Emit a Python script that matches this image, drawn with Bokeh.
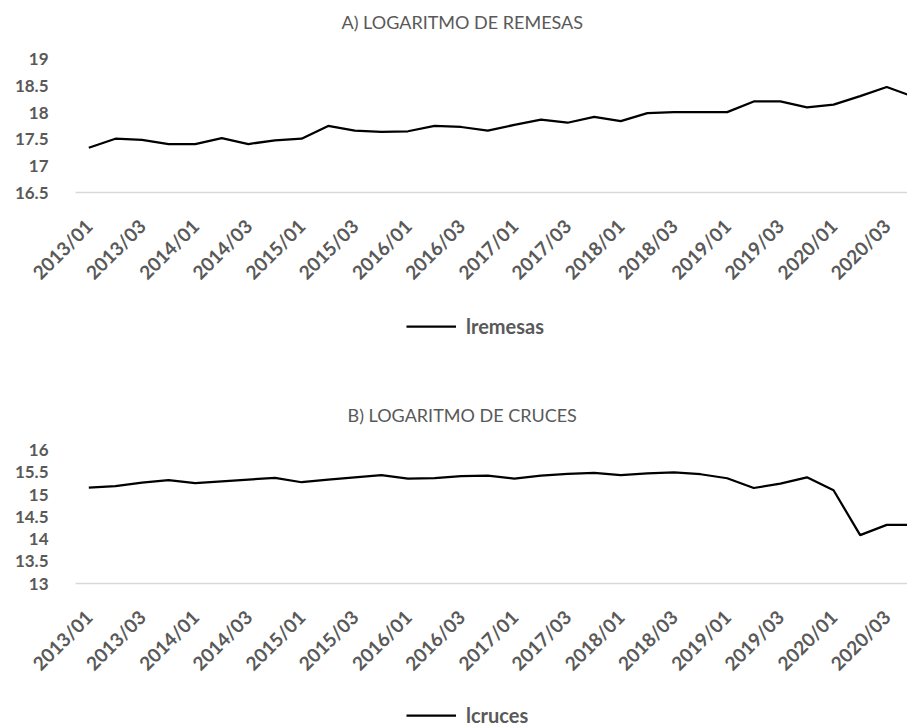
import math
from bokeh.plotting import figure
from bokeh.models import (ColumnDataSource, FixedTicker, NumeralTickFormatter,
                          Legend, LegendItem, Range1d)
from bokeh.layouts import column
from bokeh.embed import file_html
from bokeh.resources import INLINE

# ---- data ----
periods = [f"{y}/{q:02d}" for y in range(2013, 2021) for q in range(1, 5)]

lremesas = [17.34, 17.51, 17.49, 17.41, 17.41, 17.52, 17.41, 17.48,
            17.51, 17.75, 17.66, 17.64, 17.65, 17.75, 17.73, 17.66,
            17.77, 17.87, 17.81, 17.92, 17.84, 17.99, 18.01, 18.01,
            18.01, 18.21, 18.21, 18.10, 18.15, 18.31, 18.48, 18.30]

lcruces = [15.16, 15.19, 15.27, 15.33, 15.26, 15.30, 15.34, 15.38,
           15.28, 15.34, 15.39, 15.44, 15.36, 15.37, 15.42, 15.43,
           15.36, 15.43, 15.47, 15.49, 15.44, 15.48, 15.50, 15.46,
           15.37, 15.15, 15.25, 15.39, 15.10, 14.09, 14.32, 14.32]

tick_idx = list(range(0, 32, 2))
tick_labels = [periods[i] for i in tick_idx]

yticks_a = [16.5, 17, 17.5, 18, 18.5, 19]
yticks_b = [13, 13.5, 14, 14.5, 15, 15.5, 16]

titles = ["A) LOGARITMO DE REMESAS", "B) LOGARITMO DE CRUCES"]
series_names = ["lremesas", "lcruces"]

FONT = "Lato"
TITLE_FONT = "Lato"
GRAY = "#595959"
W = 907


def make_panel(title, values, yticks, y_end, height, frame_top, frame_bottom,
               title_offset):
    src = ColumnDataSource(dict(x=list(range(len(values))), y=values))
    p = figure(width=W, height=height, output_backend="svg",
               toolbar_location=None,
               x_range=Range1d(-0.5, 30.78),
               y_range=Range1d(yticks[0], y_end),
               min_border_left=75, min_border_right=0,
               min_border_top=frame_top,
               min_border_bottom=height - frame_bottom)
    p.outline_line_color = None
    p.xgrid.visible = False
    p.ygrid.visible = False

    p.line("x", "y", source=src, line_color="black", line_width=2.25)

    # title
    p.title.text = title
    p.title.align = "left"
    p.title.offset = title_offset
    p.title.standoff = 5
    p.title.text_font = TITLE_FONT
    p.title.text_font_size = "18px"
    p.title.text_font_style = "normal"
    p.title.text_color = GRAY

    # x axis
    xa = p.xaxis[0]
    xa.ticker = FixedTicker(ticks=tick_idx)
    xa.major_label_overrides = {i: lab for i, lab in zip(tick_idx, tick_labels)}
    xa.major_label_orientation = math.pi / 4
    xa.major_label_text_font = FONT
    xa.major_label_text_font_size = "19px"
    xa.major_label_text_font_style = "bold"
    xa.major_label_text_color = GRAY
    xa.major_tick_out = 0
    xa.major_tick_in = 0
    xa.major_label_standoff = 30
    xa.axis_line_color = "#d9d9d9"
    xa.axis_line_width = 1.5
    xa.major_tick_line_color = None
    xa.minor_tick_line_color = None

    # y axis
    ya = p.yaxis[0]
    ya.ticker = FixedTicker(ticks=yticks)
    ya.formatter = NumeralTickFormatter(format="0.[0]")
    ya.major_label_text_font = FONT
    ya.major_label_text_font_size = "17px"
    ya.major_label_text_font_style = "bold"
    ya.major_label_text_color = GRAY
    ya.major_label_standoff = 21
    ya.axis_line_color = None
    ya.major_tick_line_color = None
    ya.minor_tick_line_color = None
    return p


def make_legend(name, values, height, loc):
    src = ColumnDataSource(dict(x=list(range(len(values))), y=values))
    p = figure(width=W, height=height, output_backend="svg",
               toolbar_location=None, x_axis_location=None,
               y_axis_location=None,
               x_range=Range1d(100, 101), y_range=Range1d(0, 1),
               min_border=0)
    p.outline_line_color = None
    p.grid.visible = False
    r = p.line("x", "y", source=src, line_color="black", line_width=2.25)
    legend = Legend(items=[LegendItem(label=name, renderers=[r])],
                    orientation="horizontal", location=loc,
                    glyph_width=50, glyph_height=22, label_standoff=10,
                    padding=0, margin=0,
                    border_line_color=None, background_fill_alpha=0,
                    label_text_font=FONT, label_text_font_size="20px",
                    label_text_font_style="bold", label_text_color=GRAY)
    p.add_layout(legend, "center")
    return p


pA = make_panel(titles[0], lremesas, yticks_a, 19.448, height=294,
                frame_top=35, frame_bottom=193, title_offset=266)
legA = make_legend(series_names[0], lremesas, height=66, loc=(331, 22))
pB = make_panel(titles[1], lcruces, yticks_b, 16.49, height=325,
                frame_top=68, frame_bottom=224, title_offset=272)
legB = make_legend(series_names[1], lcruces, height=42, loc=(331, 0))

layout = column(pA, legA, pB, legB, spacing=0)

open("out.html", "w").write(file_html(layout, INLINE))
